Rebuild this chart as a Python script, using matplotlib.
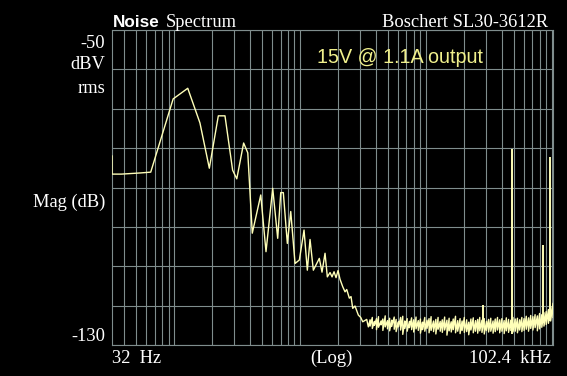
import matplotlib
matplotlib.use('Agg')
import matplotlib.pyplot as plt
from matplotlib.ticker import LogLocator, MultipleLocator, NullFormatter
import numpy as np

# low-frequency part of the trace (Hz, dBV rms)
low_hz = [32, 32, 38, 54, 65, 98, 128, 160, 190, 224, 253, 291, 314, 356, 384,
          417, 487, 536, 606, 664, 702, 736, 792, 843, 912, 987, 1075, 1142,
          1200, 1275, 1422, 1494, 1579, 1647, 1731, 1795, 1862, 1931, 2003,
          2077, 2183, 2277, 2349, 2463, 2541, 2621, 2733, 2905, 3034, 3148,
          3386, 3488]
low_db = [-82.0, -86.6, -86.6, -86.3, -86.1, -67.5, -64.8, -73.6, -85.1, -71.8,
          -71.8, -85.6, -87.8, -78.7, -81.2, -101.6, -91.9, -106.3, -90.2,
          -102.9, -91.3, -91.3, -104.2, -96.1, -109.3, -108.4, -100.8, -111.0,
          -103.2, -111.0, -108.0, -111.5, -106.7, -112.7, -111.6, -112.7,
          -111.4, -112.9, -111.1, -113.3, -115.2, -116.5, -115.9, -118.1,
          -117.7, -120.7, -120.1, -122.4, -123.0, -124.1, -123.5, -125.4]

# noise floor: top and bottom of the band at each frequency (kHz)
noise_khz = [3.6, 3.75, 3.9, 4.05, 4.2, 4.4, 4.55, 4.75, 4.95, 5.15,
             5.35, 5.6, 5.8, 6.05, 6.3, 6.55, 6.8, 7.1, 7.4, 7.7,
             8.0, 8.35, 8.7, 9.05, 9.4, 9.8, 10.2, 10.6, 11.0, 11.5,
             12.0, 12.5, 13.0, 13.5, 14.1, 14.7, 15.3, 15.9, 16.5, 17.2,
             17.9, 18.7, 19.4, 20.2, 21.1, 21.9, 22.8, 23.8, 24.8, 25.8,
             26.8, 27.9, 29.1, 30.3, 31.5, 32.8, 34.2, 35.6, 37.1, 38.6,
             40.2, 41.9, 43.6, 45.4, 47.3, 49.2, 51.3, 53.4, 55.6, 57.9,
             60.3, 62.8, 65.4, 68.1, 70.9, 73.8, 76.9, 80.1, 83.4, 86.8,
             90.4, 94.2, 98.1, 102.4]
noise_hi = [-123.6, -123.0, -124.0, -123.3, -122.8, -123.9, -123.4, -122.6, -123.8, -123.2,
            -123.7, -122.9, -123.5, -124.1, -123.0, -122.7, -123.9, -123.3, -124.0, -123.1,
            -123.6, -122.9, -123.8, -123.4, -124.2, -123.0, -123.7, -123.3, -122.8, -123.9,
            -123.5, -123.0, -124.0, -123.6, -122.9, -123.7, -123.2, -124.1, -123.4, -122.7,
            -123.8, -123.3, -123.9, -123.0, -123.6, -124.2, -123.4, -123.1, -123.8, -123.5,
            -123.0, -123.7, -123.3, -124.0, -123.5, -123.2, -123.9, -123.4, -123.0, -123.6,
            -123.3, -123.8, -123.1, -123.5, -123.7, -123.0, -123.4, -123.2, -123.6, -123.0,
            -123.3, -122.7, -123.1, -122.5, -122.8, -122.3, -122.6, -122.0, -122.3, -121.8,
            -121.5, -121.0, -120.3, -119.4]
noise_lo = [-125.2, -125.8, -125.0, -126.1, -125.5, -124.9, -126.3, -125.4, -125.9, -126.4,
            -125.3, -126.0, -126.6, -125.4, -126.2, -127.3, -125.8, -126.5, -125.6, -126.1,
            -126.7, -125.9, -126.3, -127.0, -126.1, -126.5, -125.8, -126.9, -126.3, -126.6,
            -127.2, -126.0, -126.5, -126.8, -126.2, -127.5, -126.4, -126.7, -126.1, -126.9,
            -126.5, -127.1, -126.3, -126.8, -126.6, -127.4, -126.2, -126.9, -126.5, -127.0,
            -126.4, -126.8, -127.2, -126.3, -126.7, -126.5, -127.0, -126.6, -126.2, -126.9,
            -126.5, -127.1, -126.4, -126.8, -126.3, -126.7, -126.5, -126.9, -126.2, -126.6,
            -126.3, -126.0, -126.5, -125.8, -126.2, -125.6, -126.4, -125.9, -125.5, -125.2,
            -124.8, -124.5, -123.9, -123.0]

# discrete spurs
spur_khz = [28.6, 48.7, 85.8, 97.0]
spur_top = [-119.8, -80.3, -104.6, -82.3]
spur_base = [-125.5, -127.3, -124.5, -124.0]

W, H = 567, 376
grid_c = '#7f8d8d'
trace_c = '#ffffb8'


def px(x, y):
    return x / W, 1 - y / H


fig = plt.figure(figsize=(W / 100, H / 100), dpi=100, facecolor='black')
ax = fig.add_axes([112 / W, 1 - 345 / H, 441 / W, 315 / H])
ax.set_facecolor('black')
ax.set_xscale('log')
ax.set_xlim(32, 102400)
ax.set_ylim(-130, -50)
ax.xaxis.set_major_locator(LogLocator(base=10, numticks=20))
ax.xaxis.set_minor_locator(LogLocator(base=10, subs=np.arange(2, 10), numticks=40))
ax.xaxis.set_major_formatter(NullFormatter())
ax.xaxis.set_minor_formatter(NullFormatter())
ax.yaxis.set_major_locator(MultipleLocator(10))
ax.tick_params(which='both', length=0, labelleft=False, labelbottom=False)
ax.grid(which='both', color=grid_c, lw=0.8)
for s in ax.spines.values():
    s.set_color(grid_c)
    s.set_linewidth(0.8)

# build the trace: low part, then the noise band as a zigzag between top/bottom
freq = list(low_hz)
mag = list(low_db)
for f, hi, lo in zip(noise_khz, noise_hi, noise_lo):
    freq += [f * 1000, f * 1000]
    mag += [hi, lo]
ax.plot(freq, mag, color=trace_c, lw=1.0, zorder=3)

spur_hz = [f * 1000 for f in spur_khz]
ax.vlines(spur_hz, spur_base, spur_top, color=trace_c, lw=1.4, zorder=3)

white = 'white'
serif = 'Liberation Serif'
sans = 'Liberation Sans'
fs = 13.3
fig.text(*px(113, 26.7), 'Noise', family=sans, size=12.3, weight='bold', color=white, va='baseline')
fig.text(*px(166, 26.7), 'Spectrum', family=serif, size=fs, color=white, va='baseline')
fig.text(*px(548.5, 26.7), 'Boschert SL30-3612R', family=serif, size=fs,
         color=white, va='baseline', ha='right')

fig.text(*px(105, 47.7), '-50', family=serif, size=fs, color=white, va='baseline', ha='right')
fig.text(*px(105, 68.7), 'dBV', family=serif, size=fs, color=white, va='baseline', ha='right')
fig.text(*px(105, 92.7), 'rms', family=serif, size=fs, color=white, va='baseline', ha='right')
fig.text(*px(105, 207), 'Mag (dB)', family=serif, size=fs, color=white, va='baseline', ha='right')
fig.text(*px(105, 340.7), '-130', family=serif, size=fs, color=white, va='baseline', ha='right')

fig.text(*px(112, 362.7), '32  Hz', family=serif, size=fs, color=white, va='baseline')
fig.text(*px(331, 362.7), '(Log)', family=serif, size=fs, color=white, va='baseline', ha='center')
fig.text(*px(550.7, 362.7), '102.4  kHz', family=serif, size=fs, color=white,
         va='baseline', ha='right')

fig.text(*px(316.7, 63.3), '15V @ 1.1A output', family=sans, size=14.2,
         color='#f0f08c', va='baseline')

fig.savefig('out.png', dpi=100, facecolor='black')
